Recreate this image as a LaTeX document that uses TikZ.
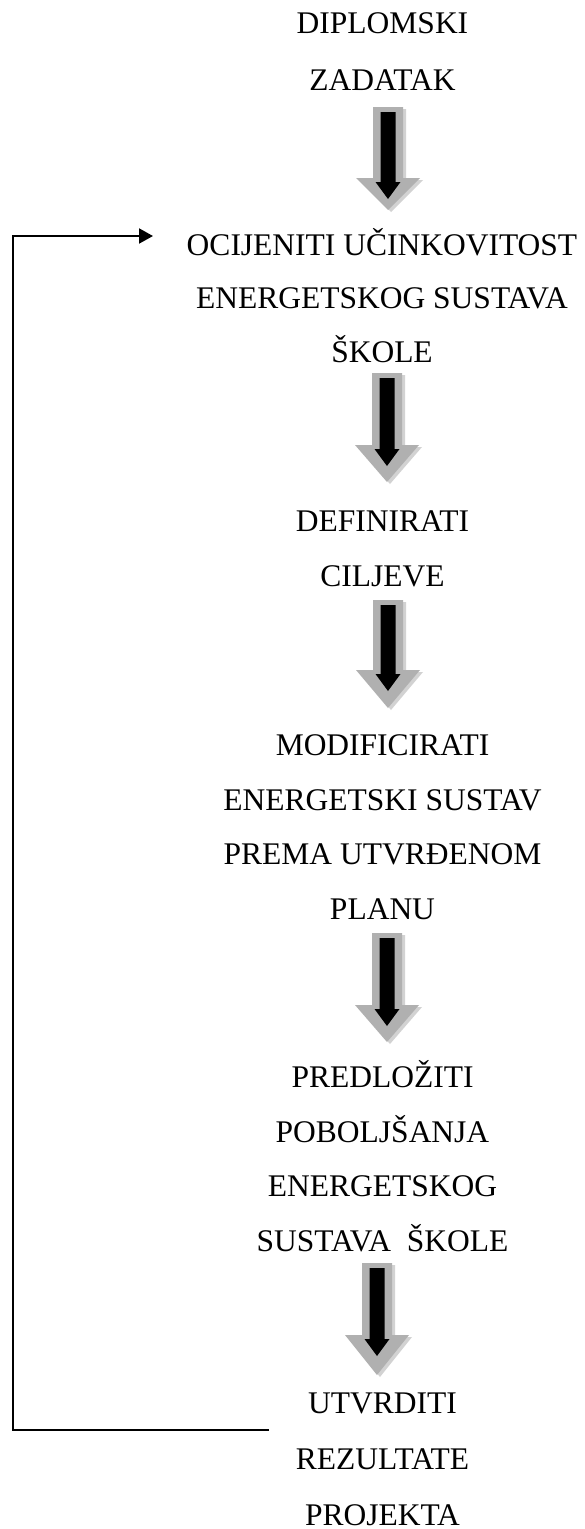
\documentclass[tikz,border=0pt]{standalone}
\usepackage{fontspec}
\setmainfont{Liberation Serif}
\usetikzlibrary{arrows.meta}
\newcommand\blkarrow[4]{%
  \fill[gray!35] ({#1-15+3},{#2+2}) -- ({#1+15+3},{#2+2}) -- ({#1+15+3},{#3+2}) -- ({#1+32+3},{#3+2}) -- ({#1+3},{#4+2}) -- ({#1-32+3},{#3+2}) -- ({#1-15+3},{#3+2}) -- cycle;
  \fill[gray!62] ({#1-15},{#2}) -- ({#1+15},{#2}) -- ({#1+15},{#3}) -- ({#1+32},{#3}) -- ({#1},{#4}) -- ({#1-32},{#3}) -- ({#1-15},{#3}) -- cycle;
  \fill[black] ({#1-7.5},{#2+5}) -- ({#1+7.5},{#2+5}) -- ({#1+7.5},{#3+4}) -- ({#1+12.5},{#3+4}) -- ({#1},{#3+21}) -- ({#1-12.5},{#3+4}) -- ({#1-7.5},{#3+4}) -- cycle;
}
\begin{document}
\begin{tikzpicture}[x=1pt,y=-1pt,
  txt/.style={font=\fontsize{31.5}{#1}\selectfont, align=center, anchor=north, inner sep=0pt},
  txt/.default=54.5,
  fb/.style={line width=2pt, -{Triangle[length=14pt,width=15pt]}}]
\useasboundingbox (0,0) rectangle (584,1529);
\fill[white] (0,0) rectangle (584,1529);
\node[txt=57] (zad) at (382.5,3) {\rule{0pt}{30pt}DIPLOMSKI\\ZADATAK};
\node[txt=53.5] (ocj) at (382,225) {\rule{0pt}{30pt}OCIJENITI UČINKOVITOST\\ENERGETSKOG SUSTAVA\\ŠKOLE};
\node[txt] (cil) at (382.5,501.5) {\rule{0pt}{30pt}DEFINIRATI\\CILJEVE};
\node[txt] (mod) at (382.5,725.5) {\rule{0pt}{30pt}MODIFICIRATI\\ENERGETSKI SUSTAV\\PREMA UTVRĐENOM\\PLANU};
\node[txt] (pre) at (382.5,1057.5) {\rule{0pt}{30pt}PREDLOŽITI\\POBOLJŠANJA\\ENERGETSKOG\\SUSTAVA\ \ ŠKOLE};
\node[txt=56] (rez) at (382.5,1383) {\rule{0pt}{30pt}UTVRDITI\\REZULTATE\\PROJEKTA};
\blkarrow{388}{107}{178}{210}
\blkarrow{387}{373}{445}{482}
\blkarrow{388}{600}{670}{708}
\blkarrow{387}{933}{1005}{1042}
\blkarrow{377}{1263}{1335}{1375}
\coordinate (fbs) at (269,1430);
\coordinate (fbe) at (153,236);
\draw[fb] (fbs) -- ++(-256,0) |- (fbe);
\end{tikzpicture}
\end{document}
